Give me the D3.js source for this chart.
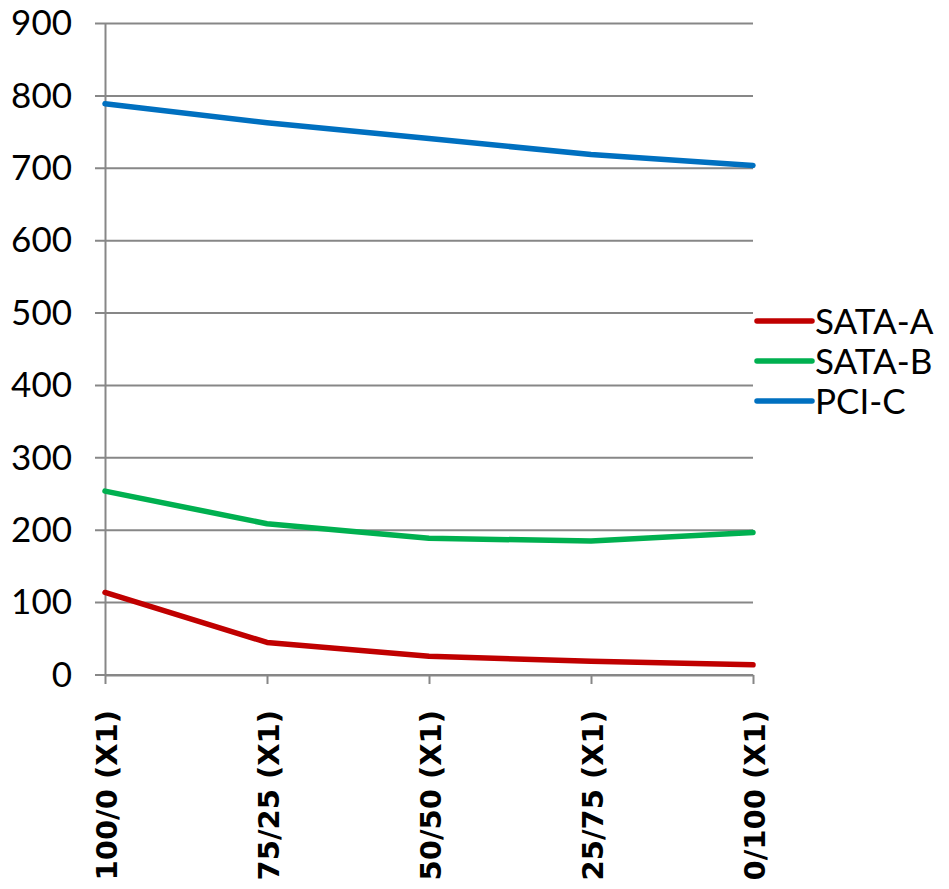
<!DOCTYPE html>
<html>
<head>
<meta charset="utf-8">
<script src="https://cdn.jsdelivr.net/npm/d3@7"></script>
<style>
  body { margin: 0; background: #fff; }
  svg { display: block; }
</style>
</head>
<body>
<div id="chart"></div>
<script>
(function() {

  // data
  var categories = ["100/0 (X1)", "75/25 (X1)", "50/50 (X1)", "25/75 (X1)", "0/100 (X1)"];
  var seriesNames = ["SATA-A", "SATA-B", "PCI-C"];
  var sataA = [114, 45, 26, 19, 14];
  var sataB = [254, 209, 189, 185, 197];
  var pciC = [789, 763, 741, 719, 704];
  var yTicks = [0, 100, 200, 300, 400, 500, 600, 700, 800, 900];
  var colors = ["#c00000", "#00b050", "#0070c0"];

  var series = [sataA, sataB, pciC].map(function(vals, i) {
    return { name: seriesNames[i], color: colors[i], values: vals };
  });

  var W = 949, H = 889;
  var margin = { top: 23.5, left: 105, right: 196, bottom: 214 };
  var width = W - margin.left - margin.right,
      height = H - margin.top - margin.bottom;

  var svg = d3.select("#chart")
    .append("svg")
    .attr("width", W)
    .attr("height", H)
    .append("g")
    .attr("transform", "translate(" + margin.left + "," + margin.top + ")");

  var xScale = d3.scalePoint()
    .domain(categories)
    .range([0, width]);

  var yScale = d3.scaleLinear()
    .domain([0, 900])
    .range([height, 0]);

  var gridColor = "#878787";

  // horizontal gridlines
  svg.append("g")
    .selectAll("line")
    .data(yTicks)
    .enter()
    .append("line")
    .attr("x1", -10)
    .attr("x2", width)
    .attr("y1", (d) => yScale(d))
    .attr("y2", (d) => yScale(d))
    .attr("stroke", gridColor)
    .attr("stroke-width", 2);

  // y axis
  var yAxis = svg.append("g")
    .call(d3.axisLeft(yScale).tickValues(yTicks).tickSize(0).tickPadding(33));
  yAxis.select(".domain").attr("stroke", gridColor).attr("stroke-width", 2);
  yAxis.selectAll("text")
    .attr("font-family", "Lato, 'Open Sans', sans-serif")
    .attr("font-size", 35)
    .attr("fill", "#000");

  // x axis
  var xAxis = svg.append("g")
    .attr("transform", `translate(0,${height})`)
    .call(d3.axisBottom(xScale).tickSize(9).tickSizeOuter(0));
  xAxis.select(".domain").attr("stroke", gridColor).attr("stroke-width", 2);
  xAxis.selectAll(".tick line").attr("stroke", gridColor).attr("stroke-width", 2);
  xAxis.selectAll("text")
    .attr("font-family", "'DejaVu Sans', sans-serif")
    .attr("font-weight", "bold")
    .attr("font-size", 29)
    .attr("fill", "#000")
    .attr("text-anchor", "end")
    .attr("dy", null)
    .attr("y", 0)
    .attr("transform", "translate(11,35) rotate(-90)");

  // lines
  var line = d3.line()
    .x((d, i) => xScale(categories[i]))
    .y((d) => yScale(d));

  svg.selectAll(".series")
    .data(series)
    .enter()
    .append("path")
    .attr("class", "series")
    .attr("d", (s) => line(s.values))
    .attr("fill", "none")
    .attr("stroke", (s) => s.color)
    .attr("stroke-width", 5.5)
    .attr("stroke-linejoin", "round")
    .attr("stroke-linecap", "round");

  // legend
  var legend = svg.append("g")
    .attr("transform", "translate(" + (757 - margin.left) + "," + (321 - margin.top) + ")");

  var items = legend.selectAll("g")
    .data(series)
    .enter()
    .append("g")
    .attr("transform", (s, i) => "translate(0," + (i * 40) + ")");

  items.append("line")
    .attr("x1", 0)
    .attr("x2", 55)
    .attr("y1", 0)
    .attr("y2", 0)
    .attr("stroke", (s) => s.color)
    .attr("stroke-width", 5.5)
    .attr("stroke-linecap", "round");

  items.append("text")
    .attr("x", 58)
    .attr("y", 0)
    .attr("dy", "0.36em")
    .attr("font-family", "Lato, 'Open Sans', sans-serif")
    .attr("font-size", 35)
    .attr("fill", "#000")
    .text((s) => s.name);

})();
</script>
</body>
</html>
